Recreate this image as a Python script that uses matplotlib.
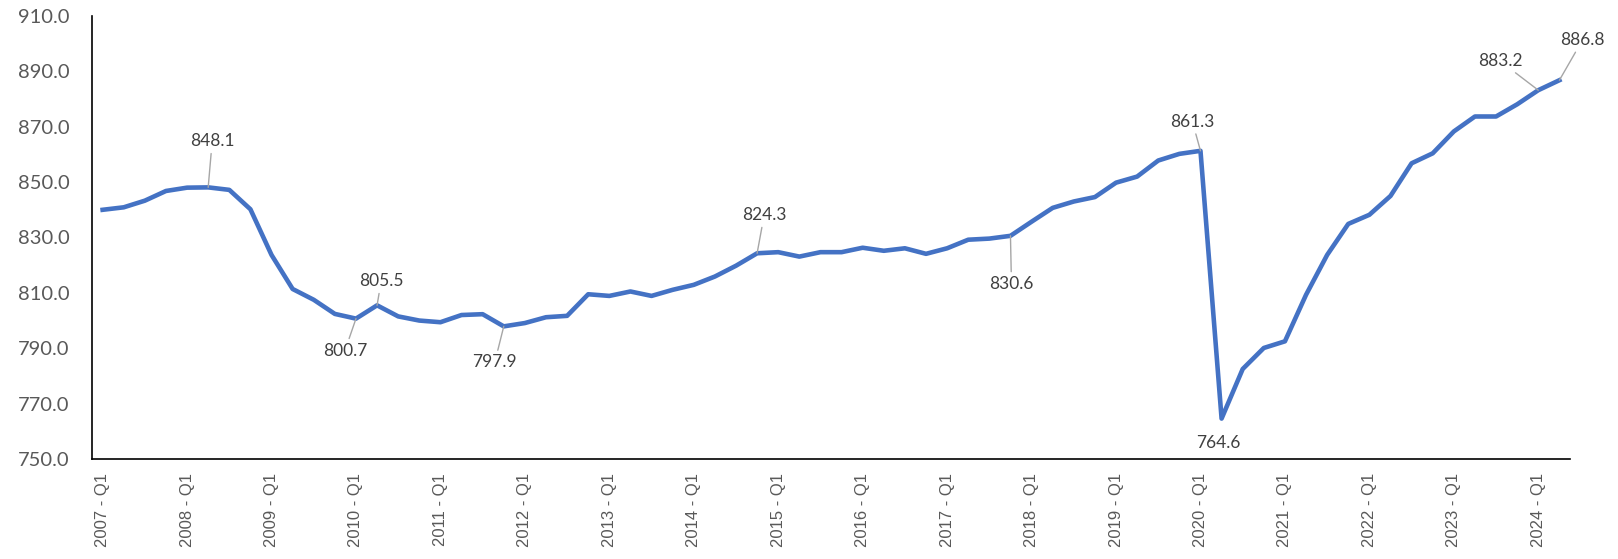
# import Libraries
import numpy as np
import matplotlib.pyplot as plt

# quarterly values, 2007 Q1 .. 2024 Q2
years = list(range(2007, 2025))
quarters = [f"{y} - Q{q}" for y in years for q in range(1, 5)][:70]
values = [
    840.0, 840.9, 843.3, 846.8, 848.0, 848.1, 847.2, 840.2,
    823.7, 811.4, 807.5, 802.4, 800.7, 805.5, 801.5, 800.0,
    799.4, 802.0, 802.3, 797.9, 799.1, 801.2, 801.7, 809.5,
    808.9, 810.5, 808.9, 811.1, 812.9, 815.9, 819.8, 824.3,
    824.7, 823.1, 824.7, 824.7, 826.3, 825.2, 826.1, 824.1,
    826.1, 829.2, 829.6, 830.6, 835.7, 840.7, 843.0, 844.6,
    849.8, 852.0, 857.8, 860.2, 861.3, 764.6, 782.5, 790.1,
    792.5, 809.3, 823.7, 834.9, 838.2, 845.0, 856.8, 860.4,
    868.3, 873.7, 873.7, 878.1, 883.2, 886.8,
]

# labelled points and where their text sits (pixels from the point)
label_idx = [5, 12, 13, 19, 31, 43, 52, 53, 68, 69]
label_off = [(4, 46), (-11, -32), (4, 24), (-9, -36), (7, 38),
             (1, -48), (-8, 29), (-3, -24), (-38, 29), (23, 40)]

fig = plt.figure(figsize=(16.18, 5.59), dpi=100)
ax = fig.add_axes([0.0569, 0.1789, 0.9134, 0.7925])

x = np.arange(len(values))
ax.plot(x, values, color="#4472C4", linewidth=3.3, solid_joinstyle="round")

for i, (dx, dy) in zip(label_idx, label_off):
    arrow = None if i == 53 else dict(arrowstyle="-", color="#A6A6A6", lw=1,
                                      shrinkA=1, shrinkB=0)
    ax.annotate(f"{values[i]:.1f}", (x[i], values[i]), xytext=(dx, dy),
                textcoords="offset pixels", ha="center", va="center",
                fontsize=12.5, family="Lato", color="#404040",
                arrowprops=arrow)

ax.set_xlim(-0.5, len(values) - 0.5)
ax.set_ylim(750, 910)
ax.set_yticks(np.arange(750, 911, 20))
ax.set_yticklabels([f"{v:.1f}" for v in np.arange(750, 911, 20)],
                   fontsize=14.5, family="Lato", color="#595959")
ax.set_xticks(x[::4])
ax.set_xticklabels(quarters[::4], rotation=90, fontsize=12,
                   family="Liberation Sans", color="#595959")
ax.tick_params(axis="y", length=0, pad=16)
ax.tick_params(axis="x", length=0, pad=10)

for s in ["top", "right"]:
    ax.spines[s].set_visible(False)
ax.spines["left"].set_linewidth(1.2)
ax.spines["bottom"].set_linewidth(1.2)

# saving the graph
plt.savefig("out.png", dpi=100)
